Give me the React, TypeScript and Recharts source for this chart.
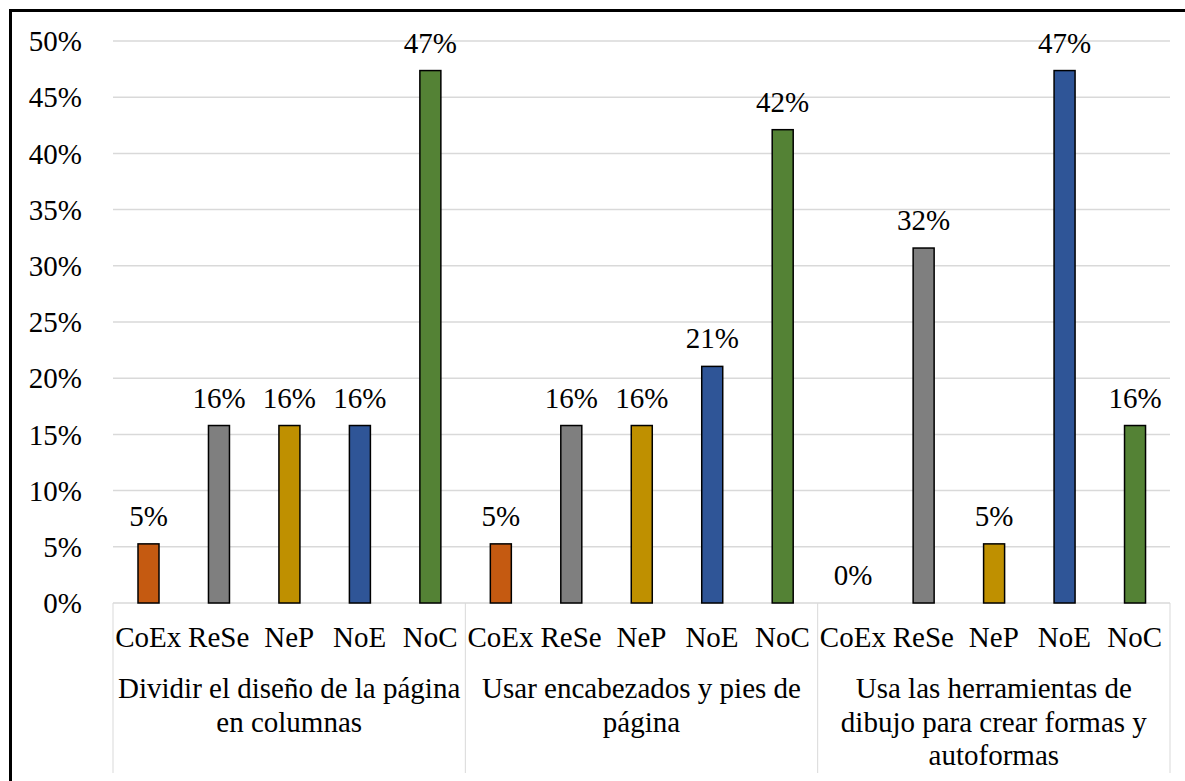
import { BarChart, Bar, XAxis, YAxis, CartesianGrid } from 'recharts'

const FONT = '"Liberation Serif", "Times New Roman", serif'
const GRID = '#D9D9D9'

// sub-categories (repeat in every group)
const SUBCATS = ['CoEx', 'ReSe', 'NeP', 'NoE', 'NoC']
const COLORS = ['#C55A11', '#7F7F7F', '#BF9000', '#2F5597', '#548235']

// group labels, already wrapped like the original
const GROUP_LINES = [
  ['Dividir el diseño de la página', 'en columnas'],
  ['Usar encabezados y pies de', 'página'],
  ['Usa las herramientas de', 'dibujo para crear formas y', 'autoformas'],
]

// shares per group, same order as SUBCATS
const DIVIDIR = [0.0526, 0.1579, 0.1579, 0.1579, 0.4737]
const ENCABEZADOS = [0.0526, 0.1579, 0.1579, 0.2105, 0.4211]
const HERRAMIENTAS = [0, 0.3158, 0.0526, 0.4737, 0.1579]

const Y_TICKS = [0, 0.05, 0.1, 0.15, 0.2, 0.25, 0.3, 0.35, 0.4, 0.45, 0.5]

const W = 1185
const H = 781
const MARGIN = { top: 41, right: 15, bottom: 0, left: 0 }
const Y_AXIS_W = 113
const X_AXIS_H = 178

const data = [DIVIDIR, ENCABEZADOS, HERRAMIENTAS].flatMap((vals, g) =>
  vals.map((v, i) => ({ id: `g${g}-${SUBCATS[i]}`, sub: SUBCATS[i], group: g, pos: i, value: v })),
)

const PLOT_W = W - MARGIN.left - MARGIN.right - Y_AXIS_W
const BAND = PLOT_W / data.length

function CategoryTick(props: any) {
  const { x, y, index } = props
  const row = data[index]
  if (!row) return null
  const lines = GROUP_LINES[row.group]
  return (
    <g>
      <text x={x} y={y + 44} textAnchor="middle" fill="#000" fontSize={29} fontFamily={FONT}>
        {row.sub}
      </text>
      {row.pos === 0 && (
        <line x1={x - BAND / 2} x2={x - BAND / 2} y1={y} y2={y + 170} stroke={GRID} strokeWidth={1} />
      )}
      {index === data.length - 1 && (
        <line x1={x + BAND / 2} x2={x + BAND / 2} y1={y} y2={y + 170} stroke={GRID} strokeWidth={1} />
      )}
      {row.pos === 2 &&
        lines.map((l, i) => (
          <text key={i} x={x} y={y + 95 + i * 33.5} textAnchor="middle" fill="#000" fontSize={29} fontFamily={FONT}>
            {l}
          </text>
        ))}
    </g>
  )
}

// bar + its value label (drawn here so the 0% bar still gets its label)
function BarWithLabel(props: any) {
  const { x, y, width, height, payload } = props
  const v = payload?.value ?? 0
  return (
    <g>
      {height > 0 && (
        <rect x={x} y={y} width={width} height={height} fill={COLORS[payload.pos]} stroke="#000" strokeWidth={1.5} />
      )}
      <text x={x + width / 2} y={y - 18} textAnchor="middle" fill="#000" fontSize={29} fontFamily={FONT}>
        {`${Math.round(v * 100)}%`}
      </text>
    </g>
  )
}

export default function App() {
  return (
    <div style={{ position: 'absolute', left: 0, top: 0, width: W, height: H, background: '#fff', overflow: 'hidden' }}>
      <div
        style={{
          position: 'absolute', left: 9, top: 9, width: W, height: H,
          borderTop: '3px solid #000', borderLeft: '3px solid #000',
        }}
      />
      <BarChart width={W} height={H} data={data} margin={MARGIN}>
        <CartesianGrid stroke={GRID} strokeWidth={1.5} vertical={false} />
        <XAxis
          dataKey="id"
          interval={0}
          height={X_AXIS_H}
          axisLine={false}
          tickLine={false}
          tickSize={0}
          tickMargin={0}
          tick={<CategoryTick />}
        />
        <YAxis
          domain={[0, 0.5]}
          ticks={Y_TICKS}
          width={Y_AXIS_W}
          axisLine={false}
          tickLine={false}
          tickSize={0}
          tickMargin={31}
          tickFormatter={(v: number) => `${Math.round(v * 100)}%`}
          tick={{ fill: '#000', fontSize: 29, fontFamily: FONT }}
        />
        <Bar dataKey="value" barSize={21} shape={<BarWithLabel />} isAnimationActive={false} />
      </BarChart>
    </div>
  )
}
